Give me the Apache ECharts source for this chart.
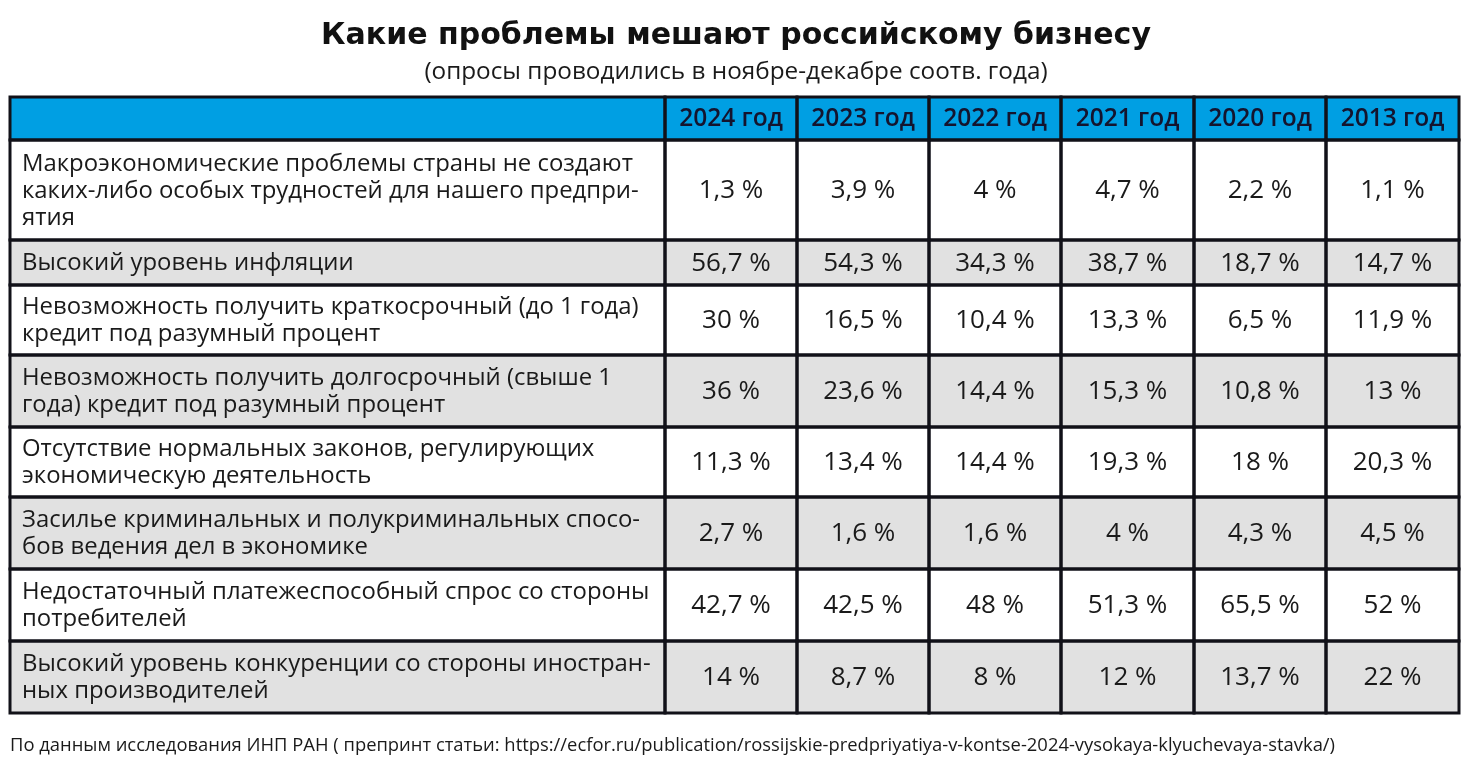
<!DOCTYPE html>
<html><head><meta charset="utf-8">
<script src="https://cdn.jsdelivr.net/npm/echarts@6/dist/echarts.min.js"></script>
<style>html,body{margin:0;padding:0;background:#fff}#c{width:1472px;height:764px}</style>
</head><body><div id="c"></div>
<script>
// ---- data ----
const years = ['2024 год', '2023 год', '2022 год', '2021 год', '2020 год', '2013 год'];
const problems = [
  'Макроэкономические проблемы страны не создают\nкаких-либо особых трудностей для нашего предпри-\nятия',
  'Высокий уровень инфляции',
  'Невозможность получить краткосрочный (до 1 года)\nкредит под разумный процент',
  'Невозможность получить долгосрочный (свыше 1\nгода) кредит под разумный процент',
  'Отсутствие нормальных законов, регулирующих\nэкономическую деятельность',
  'Засилье криминальных и полукриминальных спосо-\nбов ведения дел в экономике',
  'Недостаточный платежеспособный спрос со стороны\nпотребителей',
  'Высокий уровень конкуренции со стороны иностран-\nных производителей'
];
const v2024 = [1.3, 56.7, 30, 36, 11.3, 2.7, 42.7, 14];
const v2023 = [3.9, 54.3, 16.5, 23.6, 13.4, 1.6, 42.5, 8.7];
const v2022 = [4, 34.3, 10.4, 14.4, 14.4, 1.6, 48, 8];
const v2021 = [4.7, 38.7, 13.3, 15.3, 19.3, 4, 51.3, 12];
const v2020 = [2.2, 18.7, 6.5, 10.8, 18, 4.3, 65.5, 13.7];
const v2013 = [1.1, 14.7, 11.9, 13, 20.3, 4.5, 52, 22];
const titleText = 'Какие проблемы мешают российскому бизнесу';
const subtitleText = '(опросы проводились в ноябре-декабре соотв. года)';
const sourceText = 'По данным исследования ИНП РАН ( препринт статьи: https://ecfor.ru/publication/rossijskie-predpriyatiya-v-kontse-2024-vysokaya-klyuchevaya-stavka/)';

// ---- layout (axis units) ----
const valueCols = [v2024, v2023, v2022, v2021, v2020, v2013];
const colW = [655, 132, 132, 132, 133, 132, 133];
const rowH = [43, 100, 45, 70, 72, 70, 72, 72, 72];
const colX = [0]; colW.forEach((w, i) => colX.push(colX[i] + w));
const rowY = [0]; rowH.forEach((h, i) => rowY.push(rowY[i] + h));
const FONT = '"Open Sans", sans-serif';

const fmt = v => String(v).replace('.', ',') + ' %';

const cells = [];
for (let r = 0; r <= problems.length; r++)
  for (let c = 0; c <= years.length; c++) cells.push([c, r]);

function cellRect(api) {
  const c = api.value(0), r = api.value(1);
  const p0 = api.coord([colX[c], rowY[r]]);
  const p1 = api.coord([colX[c + 1], rowY[r + 1]]);
  return { c, r, x: p0[0], y: p0[1], w: p1[0] - p0[0], h: p1[1] - p0[1] };
}

function renderFill(params, api) {
  const k = cellRect(api);
  let fill = '#ffffff';
  if (k.r === 0) fill = '#009fe3';
  else if (k.r % 2 === 0) fill = '#e1e1e1';
  const children = [{ type: 'rect', shape: { x: k.x, y: k.y, width: k.w, height: k.h }, style: { fill: fill } }];
  let text = '', tx = k.x + k.w / 2, align = 'center', size = 26, weight = 'normal', color = '#1a1a1a', lh = 27;
  if (k.r === 0) {
    if (k.c > 0) { text = years[k.c - 1]; weight = '600'; color = '#14142e'; size = 24.5; }
  } else if (k.c === 0) {
    text = problems[k.r - 1]; tx = k.x + 12; align = 'left'; size = 23.9;
  } else {
    text = fmt(valueCols[k.c - 1][k.r - 1]);
  }
  if (text) children.push({
    type: 'text',
    style: { text: text, x: tx, y: k.y + k.h / 2 + 1, align: align, verticalAlign: 'middle',
      fontSize: size, fontFamily: FONT, fontWeight: weight, fill: color, lineHeight: lh }
  });
  return { type: 'group', children: children };
}

function renderBorder(params, api) {
  const k = cellRect(api);
  return { type: 'rect', shape: { x: k.x, y: k.y, width: k.w, height: k.h },
    style: { fill: 'none', stroke: '#111118', lineWidth: 3 } };
}

const chart = echarts.init(document.getElementById('c'), null, { renderer: 'canvas' });
chart.setOption({
  animation: false,
  backgroundColor: '#ffffff',
  title: [
    { text: titleText, left: 'center', top: 21, padding: 0, textStyle: { fontFamily: '"DejaVu Sans", sans-serif', fontWeight: 'bold', fontSize: 30, color: '#111' } },
    { text: subtitleText, left: 'center', top: 60, padding: 0, textStyle: { fontFamily: FONT, fontWeight: 'normal', fontSize: 24.3, color: '#1a1a1a' } },
    { text: sourceText, left: 10, top: 737, padding: 0, textStyle: { fontFamily: FONT, fontWeight: 'normal', fontSize: 18.4, color: '#1a1a1a' } }
  ],
  grid: { left: 10, right: 13, top: 97, bottom: 51 },
  xAxis: { type: 'value', min: 0, max: colX[colX.length - 1], show: false },
  yAxis: { type: 'value', min: 0, max: rowY[rowY.length - 1], inverse: true, show: false },
  series: [
    { type: 'custom', renderItem: renderFill, data: cells, encode: { x: 0, y: 1 }, z: 1 },
    { type: 'custom', renderItem: renderBorder, data: cells, encode: { x: 0, y: 1 }, z: 2, silent: true }
  ]
});
</script></body></html>
